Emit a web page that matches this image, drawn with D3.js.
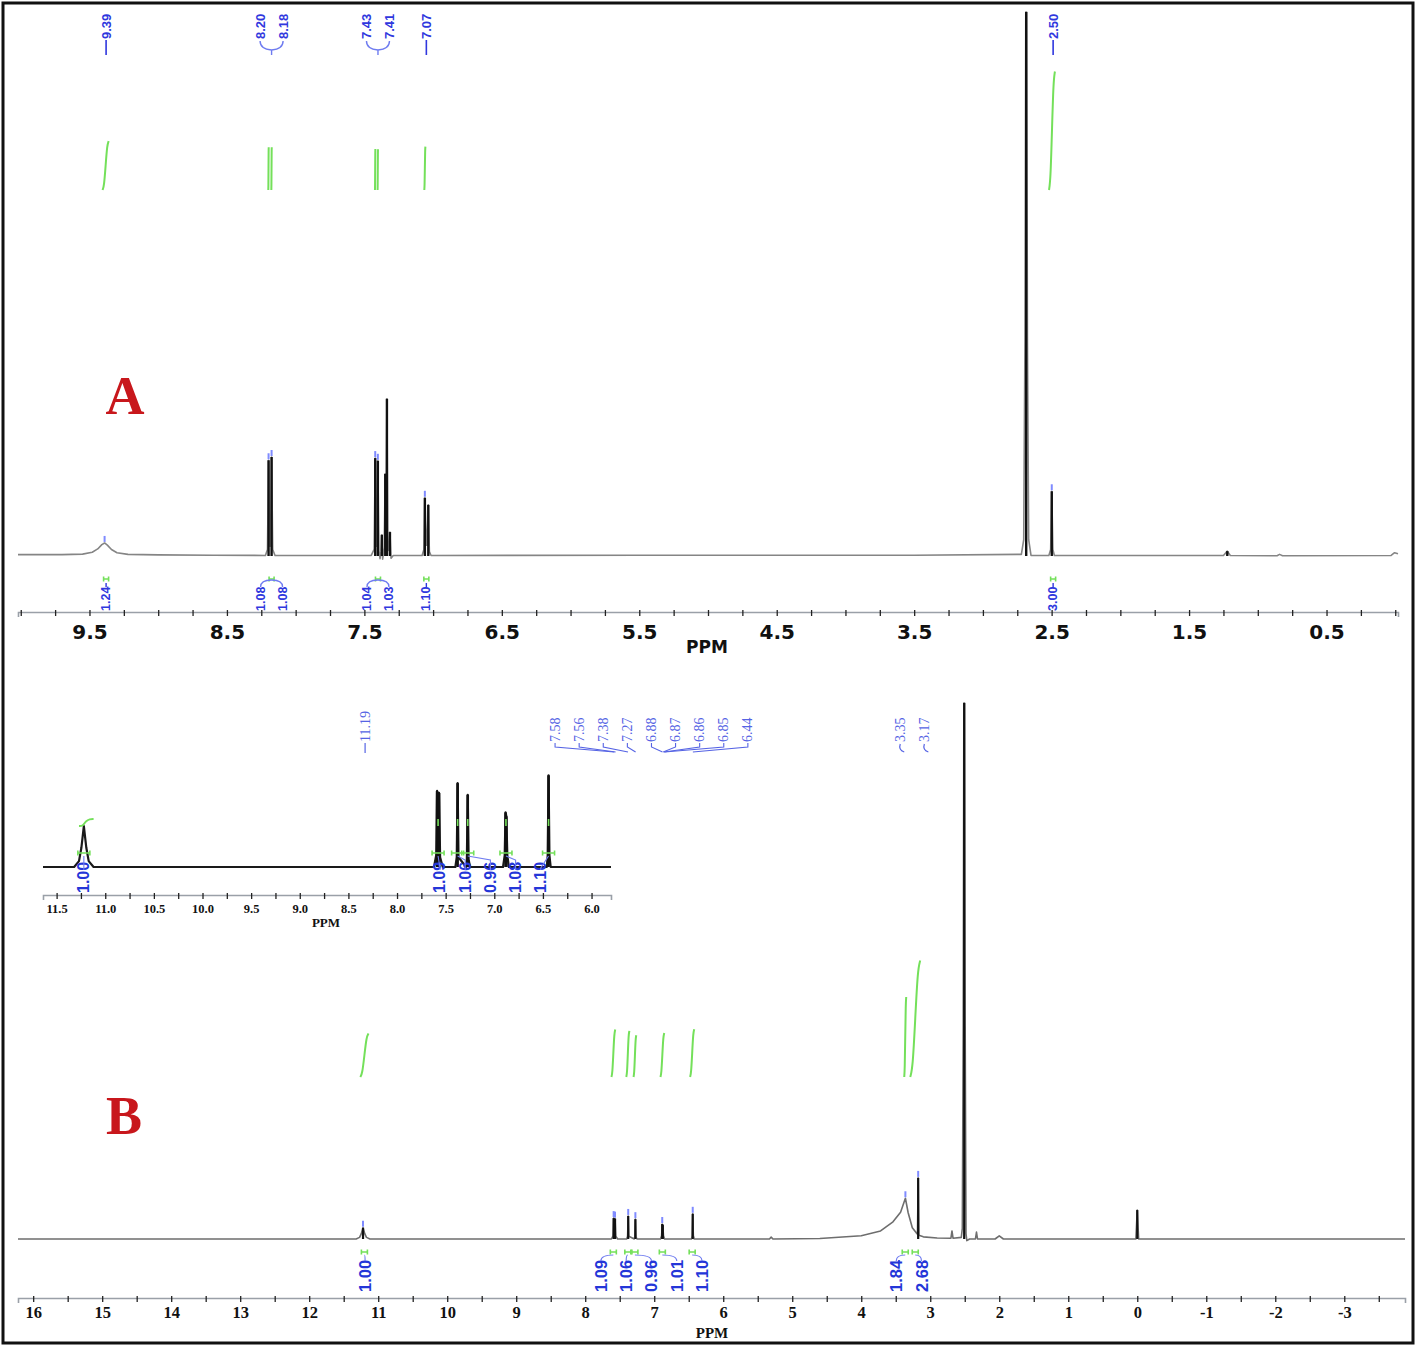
<!DOCTYPE html>
<html><head><meta charset="utf-8"><title>1H NMR spectra A and B</title>
<script src="https://cdn.jsdelivr.net/npm/d3@7/dist/d3.min.js"></script>
<style>html,body{margin:0;padding:0;background:#fff}</style></head>
<body><svg id="chart" width="1418" height="1347"></svg>
<script>
// ================= DATA =================
// Panel A spectrum: [ppm, relative intensity (%)]
const spectrumA = [
 [10.02,0.25],[9.70,0.25],[9.55,0.35],[9.48,0.7],[9.44,1.3],[9.41,2.1],[9.39,2.4],[9.37,2.0],[9.34,1.2],[9.30,0.6],[9.22,0.3],[9.0,0.2],[8.6,0.15],
 [8.22,0.1],[8.205,1.2],[8.197,17.6],[8.189,1.8],[8.183,1.8],[8.175,18.2],[8.167,1.2],[8.15,0.1],
 [7.45,0.1],[7.429,1.2],[7.421,18.0],[7.413,1.8],[7.410,1.8],[7.402,17.5],[7.394,1.0],[7.386,-0.5],[7.379,0.8],[7.373,3.9],[7.367,-0.6],[7.356,1.5],[7.348,15.1],[7.343,6.0],[7.336,28.9],[7.329,1.0],[7.321,1.2],[7.314,4.4],[7.306,-0.4],[7.29,0.1],
 [7.08,0.1],[7.067,1.2],[7.060,10.7],[7.049,2.0],[7.044,2.0],[7.035,9.4],[7.027,0.8],[7.015,0.1],
 [5.5,0.15],[3.5,0.15],
 [2.72,0.3],[2.703,3],[2.694,40],[2.688,100],[2.682,100],[2.676,40],[2.667,3],[2.65,0.1],
 [2.52,0.1],[2.507,1.2],[2.499,11.9],[2.491,1.2],[2.48,0.1],
 [1.25,0.1],[1.222,0.9],[1.20,0.1],
 [0.86,0.05],[0.842,0.3],[0.82,0.05],
 [0.03,0.1],[0.005,0.6],[-0.02,0.4]
];
// Panel A sharp peaks [ppm, intensity]
const peaksA = [[8.197,17.6],[8.175,18.2],[7.421,18.0],[7.402,17.5],[7.373,3.9],[7.348,15.1],[7.336,28.9],[7.314,4.4],[7.060,10.7],[7.035,9.4],[2.685,100],[2.499,11.9],[1.222,0.9]];
// Panel A peak-pick marks [ppm, intensity]
const pickedA = [[9.39,2.4],[8.197,17.6],[8.175,18.2],[7.421,18.0],[7.402,17.5],[7.060,10.7],[2.499,11.9]];
// Panel A peak labels (groups) and the ppm they point to
const peakLabelsA = [["9.39"],["8.20","8.18"],["7.43","7.41"],["7.07"],["2.50"]];
const peakLabelAtA = [9.39, 8.186, 7.412, 7.06, 2.50];
// Panel A integrals: value, ppm start, ppm end
const integValA  = [1.24, 1.08, 1.08, 1.04, 1.03, 1.10, 3.00];
const integFromA = [9.405, 8.199, 8.177, 7.423, 7.404, 7.064, 2.519];
const integToA   = [9.360, 8.196, 8.174, 7.420, 7.401, 7.056, 2.476];
const integLabelsA = [["1.24"],["1.08","1.08"],["1.04","1.03"],["1.10"],["3.00"]];
const integLabelAtA = [9.39, 8.186, 7.412, 7.06, 2.50];
const ticksA = d3.range(0, 41).map(i => +(10 - i*0.25).toFixed(2));

// Panel B spectrum
const spectrumB = [
 [16.22,0],[11.32,0],[11.27,0.3],[11.245,1.0],[11.22,2.1],[11.195,1.0],[11.17,0.3],[11.12,0],
 [7.62,0],[7.597,0.6],[7.588,3.9],[7.578,1.4],[7.568,3.8],[7.557,0.5],[7.53,0],
 [7.40,0],[7.386,0.5],[7.377,4.3],[7.368,0.5],[7.29,0],[7.282,0.4],[7.273,3.7],[7.264,0.4],[7.25,0],
 [6.91,0],[6.893,0.6],[6.884,2.8],[6.876,2.6],[6.866,0.6],[6.85,0],
 [6.46,0],[6.451,0.6],[6.442,4.7],[6.433,0.6],[6.42,0],
 [5.33,0],[5.305,0.35],[5.28,0],
 [4.6,0.1],[4.0,0.6],[3.72,1.5],[3.54,3.2],[3.43,5.0],[3.36,7.6],[3.32,4.9],[3.26,2.1],[3.20,1.1],
 [3.185,0.9],[3.175,11.4],[3.165,0.7],[3.10,0.4],[2.90,0.2],
 [2.70,0.15],[2.685,1.5],[2.67,0.15],
 [2.55,0.3],[2.535,2],[2.522,40],[2.513,100],[2.503,100],[2.494,40],[2.482,1],[2.47,-0.3],[2.43,0],
 [2.345,0],[2.33,1.3],[2.315,0],
 [2.06,0],[2.0,0.6],[1.94,0],
 [0.02,0],[0.0,5.4],[-0.02,0],[-3.88,0]
];
const peaksB = [[11.22,2.1],[7.588,3.9],[7.568,3.8],[7.377,4.3],[7.273,3.7],[6.884,2.8],[6.876,2.6],[6.442,4.7],[3.175,11.4],[2.508,100],[0.0,5.4]];
const pickedB = [[11.22,2.1],[7.588,3.9],[7.568,3.8],[7.377,4.3],[7.273,3.7],[6.884,2.8],[6.442,4.7],[3.36,7.6],[3.175,11.4]];
const peakLabelsB = [["11.19"],["7.58","7.56","7.38","7.27","6.88","6.87","6.86","6.85","6.44"],["3.35","3.17"]];
const peakLabelCentreB = [11.19, 7.04, 3.26];
const integValB  = [1.00, 1.09, 1.06, 0.96, 1.01, 1.10, 1.84, 2.68];
const integFromB = [11.26, 7.62, 7.405, 7.30, 6.91, 6.48, 3.377, 3.29];
const integToB   = [11.14, 7.565, 7.36, 7.26, 6.855, 6.42, 3.348, 3.145];
const integLabelsB = [["1.00"],["1.09","1.06","0.96","1.01","1.10"],["1.84","2.68"]];
const integLabelCentreB = [11.19, 7.04, 3.31];
const ticksB = d3.range(0, 40).map(i => 16 - i*0.5);

// Inset (zoom of B, 11.6–5.8 ppm)
const insetMagnification = 19.5;
const integLabelsI = [["1.00"],["1.09","1.06","0.96","1.08","1.10"]];
const integLabelCentreI = [11.22, 7.04];
const integPeaksI = [[11.22],[7.578,7.377,7.273,6.88,6.442]];
const ticksI = d3.range(0, 23).map(i => +(11.5 - i*0.25).toFixed(2));

// ================= DRAWING =================
const svg = d3.select("#chart");
const BLUE = "#2f37de", LBLUE = "#5563e4", GREEN = "#74e05a", GREY = "#858585";

const xA = d3.scaleLinear().domain([10.02, -0.02]).range([18, 1398]);
const yA = d3.scaleLinear().domain([0, 100]).range([556, 12]);
const yIntA = d3.scaleLinear().domain([0, 1]).range([190, 150.5]);
const xB = d3.scaleLinear().domain([16.22, -3.88]).range([18, 1405]);
const yB = d3.scaleLinear().domain([0, 100]).range([1239, 703]);
const yIntB = d3.scaleLinear().domain([0, 1]).range([1077, 1033.5]);
const xI = d3.scaleLinear().domain([11.64, 5.80]).range([43, 611]);
const yI = d3.scaleLinear().domain([0, 100/insetMagnification]).range([867, 767]);

function spectrum(data, x, y, color, w) {
  svg.append("path").datum(data)
    .attr("d", d3.line().x(d => x(d[0])).y(d => y(d[1])))
    .attr("fill", "none").attr("stroke", color).attr("stroke-width", w)
    .attr("stroke-linejoin", "round");
}
function sticks(data, x, y, w) {
  svg.append("g").selectAll("line").data(data).join("line")
    .attr("x1", d => x(d[0])).attr("x2", d => x(d[0]))
    .attr("y1", y(0)).attr("y2", d => y(d[1]))
    .attr("stroke", "#111").attr("stroke-width", w);
}
function picks(data, x, y) {
  svg.append("g").selectAll("line").data(data).join("line")
    .attr("x1", d => x(d[0])).attr("x2", d => x(d[0]))
    .attr("y1", d => y(d[1]) - 7).attr("y2", d => y(d[1]) - 1)
    .attr("stroke", "#7f8bff").attr("stroke-width", 2);
}
function axis(scale, yPos, ticks, isLabelled, fmt, font, size, labelY) {
  const ax = d3.axisBottom(scale).tickValues(ticks).tickSizeOuter(0).tickSize(5)
    .tickFormat(d => isLabelled(d) ? fmt(d) : "");
  const a = svg.append("g").attr("transform", `translate(0,${yPos})`).call(ax);
  a.select(".domain").attr("stroke", "#9aa0a8").attr("stroke-width", 1.6);
  a.selectAll(".tick line").attr("y1", -2).attr("y2", 4).attr("stroke", "#222").attr("stroke-width", 1.3);
  a.selectAll(".tick text").attr("y", labelY).attr("font-family", font).attr("font-size", size)
    .attr("font-weight", "bold").attr("fill", "#111");
}
function vtext(x, y, str, font, size, weight, color) {
  svg.append("text").attr("transform", `translate(${x},${y}) rotate(-90)`)
    .attr("text-anchor", "start").attr("dominant-baseline", "central")
    .attr("font-family", font).attr("font-size", size).attr("font-weight", weight)
    .attr("fill", color).text(str);
}
function integ(x0, x1, yb, yt) {
  const pts = [[x0, yb], [x0 + (x1 - x0) * 0.25, yb - (yb - yt) * 0.08], [(x0 + x1) / 2, (yb + yt) / 2],
               [x1 - (x1 - x0) * 0.25, yt + (yb - yt) * 0.08], [x1, yt]];
  svg.append("path").attr("d", d3.line().curve(d3.curveBasis)(pts))
    .attr("fill", "none").attr("stroke", GREEN).attr("stroke-width", 2);
}
function greenMark(cx, y, hw) {
  svg.append("path").attr("d", `M${cx-hw},${y-2.5}V${y+2.5}M${cx-hw},${y}H${cx+hw}M${cx+hw},${y-2.5}V${y+2.5}`)
    .attr("fill", "none").attr("stroke", GREEN).attr("stroke-width", 1.6);
}
function leader(d, color, w) {
  svg.append("path").attr("d", d).attr("fill", "none").attr("stroke", color).attr("stroke-width", w || 1.3);
}

// ---------- Panel A ----------
spectrum(spectrumA, xA, yA, GREY, 1.6);
sticks(peaksA, xA, yA, 2.4);
picks(pickedA, xA, yA);

const fontA = "Liberation Sans, Arial, sans-serif";
peakLabelsA.forEach((grp, gi) => {
  const cx = xA(peakLabelAtA[gi]) + 1.5;
  const xs = grp.map((t, i) => cx + (i - (grp.length - 1) / 2) * 23);
  grp.forEach((t, i) => vtext(xs[i], 39, t, fontA, 13, "bold", BLUE));
  if (grp.length === 1) leader(`M${xs[0]},40V55`, BLUE, 1.6);
  else {
    leader(`M${xs[0]},41Q${xs[0]},49 ${cx},50Q${xs[xs.length-1]},49 ${xs[xs.length-1]},41M${cx},50V55`, "#6f7cf0", 1.4);
  }
});
integValA.forEach((v, i) => integ(xA(integFromA[i]), xA(integToA[i]), yIntA(0), yIntA(v)));
integLabelsA.forEach((grp, gi) => {
  const cx = xA(integLabelAtA[gi]) + 1.5;
  const xs = grp.map((t, i) => cx + (i - (grp.length - 1) / 2) * 22);
  greenMark(cx, 579, 2.5);
  grp.forEach((t, i) => vtext(xs[i], 611, t, fontA, 12.5, "bold", BLUE));
  if (grp.length === 1) leader(`M${xs[0]},583V587`, BLUE, 1.4);
  else leader(`M${xs[0]},587Q${xs[0]},580 ${cx},580Q${xs[xs.length-1]},580 ${xs[xs.length-1]},587`, "#6f7cf0", 1.3);
});
axis(xA, 612, ticksA, d => Math.abs((d * 2) % 2 - 1) < 1e-6, d3.format(".1f"),
     "DejaVu Sans, Verdana, sans-serif", 20, 13);
svg.append("text").attr("x", 707).attr("y", 653).attr("text-anchor", "middle")
  .attr("font-family", "DejaVu Sans, Verdana, sans-serif").attr("font-size", 17).attr("font-weight", "bold")
  .attr("fill", "#111").text("PPM");
svg.append("text").attr("x", 125).attr("y", 414).attr("text-anchor", "middle")
  .attr("font-family", "Liberation Serif, Times New Roman, serif").attr("font-size", 54).attr("font-weight", "bold")
  .attr("fill", "#c8171c").text("A");

// ---------- Panel B ----------
spectrum(spectrumB, xB, yB, "#6e6e6e", 1.6);
sticks(peaksB, xB, yB, 2.2);
picks(pickedB, xB, yB);

const serif = "Liberation Serif, Times New Roman, serif";
peakLabelsB.forEach((grp, gi) => {
  const cx = xB(peakLabelCentreB[gi]);
  const xs = grp.map((t, i) => cx + (i - (grp.length - 1) / 2) * 24.1);
  grp.forEach((t, i) => {
    vtext(xs[i], 742, t, serif, 14, "normal", LBLUE);
    const px = xB(+t);
    if (grp.length === 1) leader(`M${xs[i]},743V753`, LBLUE, 1.2);
    else if (gi === 2) leader(`M${xs[i]},744Q${xs[i]-2},750 ${xs[i]+4},752`, LBLUE, 1.2);
    else leader(`M${xs[i]},743V747L${px},752`, LBLUE, 1.1);
  });
});
integValB.forEach((v, i) => integ(xB(integFromB[i]), xB(integToB[i]), yIntB(0), yIntB(v)));
const fontB = "Liberation Sans, Arial, sans-serif";
let k = 0;
integLabelsB.forEach((grp, gi) => {
  const cx = xB(integLabelCentreB[gi]);
  const xs = grp.map((t, i) => cx + (i - (grp.length - 1) / 2) * 25.3);
  grp.forEach((t, i) => {
    const mx = xB((integFromB[k] + integToB[k]) / 2);
    greenMark(mx, 1252, 3);
    vtext(xs[i], 1292, t, fontB, 16.5, "bold", "#2436d8");
    leader(`M${xs[i]},1261Q${xs[i]},1255 ${mx},1255`, "#6f7cf0", 1.2);
    k++;
  });
});
axis(xB, 1298, ticksB, d => Number.isInteger(d), d => String(d), serif, 16.5, 8);
svg.append("text").attr("x", 712).attr("y", 1338).attr("text-anchor", "middle")
  .attr("font-family", serif).attr("font-size", 15).attr("font-weight", "bold")
  .attr("fill", "#111").text("PPM");
svg.append("text").attr("x", 124).attr("y", 1134).attr("text-anchor", "middle")
  .attr("font-family", serif).attr("font-size", 54).attr("font-weight", "bold")
  .attr("fill", "#c8171c").text("B");

// ---------- Inset ----------
const insetData = spectrumB.filter(d => d[0] <= 11.64 && d[0] >= 5.80);
insetData.unshift([11.64, 0]); insetData.push([5.80, 0]);
spectrum(insetData, xI, yI, "#1a1a1a", 2.2);
sticks(peaksB.filter(d => d[0] <= 11.64 && d[0] >= 5.80 && d[0] !== 11.22), xI, yI, 2.6);
svg.append("path").attr("d", d3.line().curve(d3.curveBasis)([[xI(11.27),826],[xI(11.23),826],[xI(11.2),821],[xI(11.16),819],[xI(11.12),819]]))
  .attr("fill","none").attr("stroke",GREEN).attr("stroke-width",1.8);
integPeaksI[1].forEach(p => leader(`M${xI(p)},819V826`, GREEN, 1.6));
integLabelsI.forEach((grp, gi) => {
  const cx = xI(integLabelCentreI[gi]);
  const xs = grp.map((t, i) => cx + (i - (grp.length - 1) / 2) * 25.2);
  grp.forEach((t, i) => {
    const mx = xI(integPeaksI[gi][i]);
    greenMark(mx, 853, 6);
    vtext(xs[i], 893, t, fontB, 16, "bold", "#2436d8");
    leader(`M${mx},856L${xs[i]},${mx < xs[i] - 6 ? 860 : 868}L${xs[i]},870`, "#6f7cf0", 1.1);
  });
});
axis(xI, 895, ticksI, d => Math.abs((d * 2) - Math.round(d * 2)) < 1e-6, d3.format(".1f"), serif, 12.5, 9);
svg.append("text").attr("x", 326).attr("y", 927).attr("text-anchor", "middle")
  .attr("font-family", serif).attr("font-size", 13).attr("font-weight", "bold")
  .attr("fill", "#111").text("PPM");

// frame
svg.append("rect").attr("x", 3).attr("y", 3).attr("width", 1410).attr("height", 1340)
  .attr("fill", "none").attr("stroke", "#111").attr("stroke-width", 3);
</script></body></html>
